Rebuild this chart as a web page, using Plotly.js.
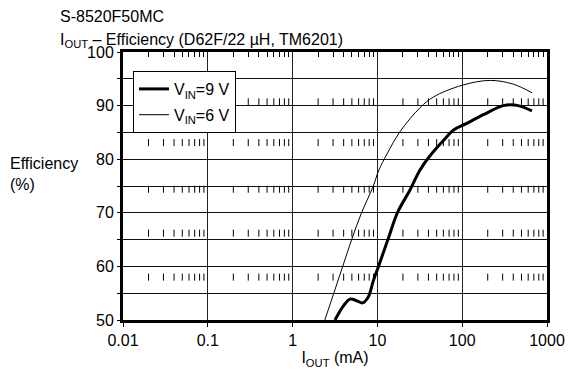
<!DOCTYPE html>
<html>
<head>
<meta charset="utf-8">
<script src="https://cdn.plot.ly/plotly-3.0.1.min.js"></script>
<style>html,body{margin:0;padding:0;background:#fff;}#chart{width:570px;height:375px;}</style>
</head>
<body>
<div id="chart"></div>
<script>
// Data (I_OUT in mA, efficiency in %)
var vin9_iout = [3.16, 3.96, 4.75, 5.7, 6.7, 7.8, 8.95, 10.3, 13.5, 17.2, 24.3, 31.8, 41.5, 60, 80, 110, 178, 306, 457, 665];
var vin9_eff  = [50, 52.6, 53.9, 53.6, 53.2, 54.3, 57.3, 60, 65.3, 70, 74.3, 78, 80.6, 83.5, 85.5, 86.6, 88.3, 90.0, 90.0, 89.0];
var vin6_iout = [2.4, 3.9, 4.97, 6.5, 8.95, 10.3, 13, 18.6, 31.8, 45.7, 100, 214, 400, 665];
var vin6_eff  = [50, 60, 65, 70, 75, 77.8, 81, 85.2, 89.6, 91.6, 93.8, 94.7, 94.0, 92.4];

var xTickVals = [0.01, 0.1, 1, 10, 100, 1000];
var xTickText = ['0.01', '0.1', '1', '10', '100', '1000'];

// decorative minor-tick rows of the original graph paper
var minorDecades = [0.01, 0.1, 1, 10, 100];
var minorDigits = [2, 3, 4, 5, 6, 7, 8, 9];
var minorRows = [90.7, 83.1, 74.4, 66.2, 58.0];

var titleLine1 = 'S-8520F50MC';
var titleLine2 = 'I<sub>OUT</sub> – Efficiency (D62F/22 µH, TM6201)';

var minorX = [];
minorDecades.forEach(function (d) { minorDigits.forEach(function (m) { minorX.push(d * m); }); });
var rowX = [], rowY = [];
minorRows.forEach(function (r) { minorX.forEach(function (x) { rowX.push(x); rowY.push(r); }); });

var FONT = 'Arial, "Liberation Sans", sans-serif';

var traces = [
  {
    x: rowX, y: rowY, xaxis: 'x2', yaxis: 'y', type: 'scatter', mode: 'markers',
    marker: {symbol: 'line-ns', size: 5, line: {width: 1, color: '#000'}},
    showlegend: false, hoverinfo: 'skip'
  },
  {
    x: vin9_iout, y: vin9_eff, type: 'scatter', mode: 'lines',
    name: 'V<sub>IN</sub>=9 V', legendgroup: 'a',
    line: {color: '#000', width: 3, shape: 'spline', smoothing: 1}
  },
  {
    x: vin6_iout, y: vin6_eff, type: 'scatter', mode: 'lines',
    name: 'V<sub>IN</sub>=6 V', legendgroup: 'b',
    line: {color: '#000', width: 1, shape: 'spline', smoothing: 1}
  }
];

var layout = {
  width: 570, height: 375,
  margin: {l: 123, r: 23, t: 52, b: 55},
  paper_bgcolor: '#fff', plot_bgcolor: '#fff',
  font: {family: FONT, size: 16, color: '#000'},
  showlegend: true,
  xaxis: {
    type: 'log', range: [-2, 3],
    tickmode: 'array', tickvals: xTickVals, ticktext: xTickText,
    ticks: 'outside', ticklen: 4, tickwidth: 1, tickcolor: '#000',
    showgrid: true, gridcolor: '#222', gridwidth: 1,
    showline: true, linewidth: 3, linecolor: '#000', mirror: true,
    zeroline: false,
    tickfont: {family: FONT, size: 16, color: '#000'},
    title: {text: 'I<sub>OUT</sub> (mA)', font: {family: FONT, size: 16, color: '#000'}, standoff: 2}
  },
  xaxis2: {
    type: 'log', range: [-2, 3], overlaying: 'x', side: 'top',
    tickmode: 'array', tickvals: minorX, showticklabels: false,
    ticks: 'inside', ticklen: 5, tickwidth: 1, tickcolor: '#000',
    showgrid: false, showline: false, zeroline: false
  },
  yaxis: {
    range: [50, 100], tick0: 50, dtick: 10,
    ticks: 'outside', ticklen: 3, tickwidth: 1, tickcolor: '#000',
    showgrid: true, gridcolor: '#111', gridwidth: 1,
    minor: {dtick: 5, tick0: 50, showgrid: true, gridcolor: '#111', gridwidth: 1,
            ticks: 'outside', ticklen: 3, tickcolor: '#000'},
    showline: true, linewidth: 3, linecolor: '#000', mirror: true,
    zeroline: false,
    tickfont: {family: FONT, size: 16, color: '#000'}
  },
  legend: {
    x: 10 / 424, y: 249 / 268, xanchor: 'left', yanchor: 'top',
    bgcolor: '#fff', bordercolor: '#000', borderwidth: 1,
    font: {family: FONT, size: 16, color: '#000'},
    traceorder: 'grouped', tracegroupgap: 2
  },
  annotations: [
    {
      text: titleLine1, xref: 'paper', yref: 'paper',
      x: -65 / 424, y: (320 - 17) / 268, xanchor: 'left', yanchor: 'middle',
      showarrow: false, font: {family: FONT, size: 16, color: '#000'}
    },
    {
      text: titleLine2, xref: 'paper', yref: 'paper',
      x: -65 / 424, y: (320 - 40) / 268, xanchor: 'left', yanchor: 'middle',
      showarrow: false, font: {family: FONT, size: 16, color: '#000'}
    },
    {
      text: 'Efficiency<br>(%)', xref: 'paper', yref: 'paper',
      x: -115 / 424, y: 146 / 268, xanchor: 'left', yanchor: 'middle',
      align: 'left', showarrow: false,
      font: {family: FONT, size: 16, color: '#000'}
    }
  ]
};

Plotly.newPlot('chart', traces, layout, {staticPlot: true, displayModeBar: false});
</script>
</body>
</html>
